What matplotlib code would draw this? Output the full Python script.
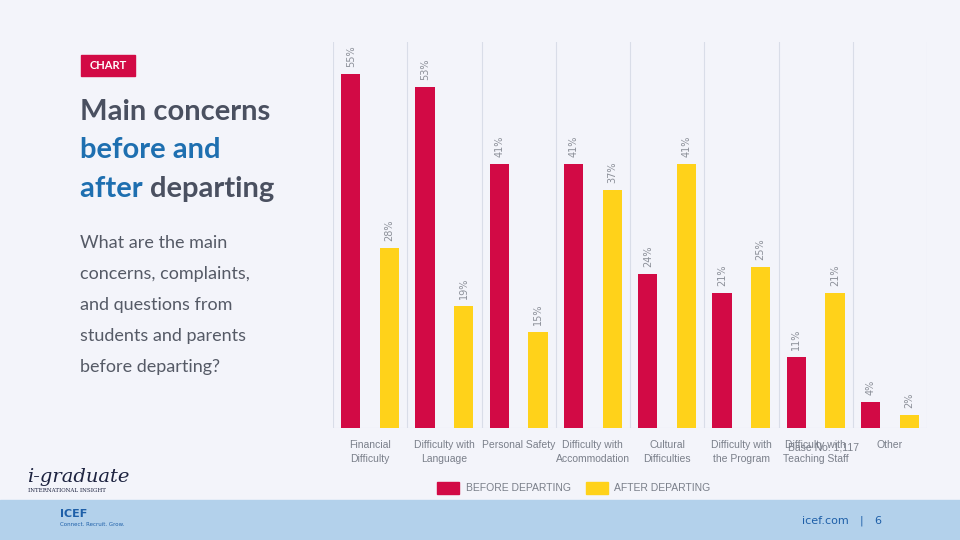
import numpy as np
import matplotlib
matplotlib.use("Agg")
import matplotlib.pyplot as plt
from matplotlib.patches import Rectangle, Patch

# --- data -------------------------------------------------------------------
categories = [
    "Financial\nDifficulty",
    "Difficulty with\nLanguage",
    "Personal Safety",
    "Difficulty with\nAccommodation",
    "Cultural\nDifficulties",
    "Difficulty with\nthe Program",
    "Difficulty with\nTeaching Staff",
    "Other",
]
before = [55, 53, 41, 41, 24, 21, 11, 4]
after = [28, 19, 15, 37, 41, 25, 21, 2]
series_names = ["BEFORE DEPARTING", "AFTER DEPARTING"]

# --- style ------------------------------------------------------------------
W, H = 960, 540
BG = "#F3F4FA"
RED = "#D20A45"
YELLOW = "#FFD21A"
GRID = "#D9DDE8"
DARK = "#4A5060"
BLUE = "#1E6FB0"
GRAY = "#7A7F8A"
FOOT = "#B3D1EB"
FOOT_TXT = "#1E5FA8"
TITLE_FONT = ["Lato", "DejaVu Sans"]
SMALL_FONT = ["Liberation Sans Narrow", "Liberation Sans", "DejaVu Sans"]


def px(x, y):
    """pixel position (from top-left) -> figure fraction"""
    return x / W, 1 - y / H


fig = plt.figure(figsize=(W / 100, H / 100), dpi=100, facecolor=BG)

# footer band
fig.patches.append(Rectangle((0, 0), 1, 40 / H, transform=fig.transFigure,
                             color=FOOT, zorder=0))

# --- chart ------------------------------------------------------------------
left, top, right, bottom = 333, 42, 927, 428
ax = fig.add_axes([left / W, 1 - bottom / H, (right - left) / W, (bottom - top) / H])
ax.set_facecolor("none")

x = np.arange(len(categories))
bw = 0.26
b1 = ax.bar(x - bw, before, bw, color=RED, zorder=3)
b2 = ax.bar(x + bw, after, bw, color=YELLOW, zorder=3)

for bars in (b1, b2):
    for r in bars:
        ax.annotate(f"{r.get_height():.0f}%",
                    (r.get_x() + r.get_width() / 2, r.get_height()),
                    xytext=(0, 5), textcoords="offset points",
                    rotation=90, ha="center", va="bottom",
                    fontsize=7, color="#8C9099")

for i in range(len(categories) + 1):
    ax.axvline(i - 0.5, color=GRID, lw=0.8, zorder=1)
ax.axhline(0, color=GRID, lw=0.8, zorder=1)

ax.set_xlim(-0.5, len(categories) - 0.5)
ax.set_ylim(0, 60)
ax.set_yticks([])
ax.set_xticks(x)
ax.set_xticklabels(categories, fontsize=7.5, color=GRAY, family=SMALL_FONT,
                   linespacing=1.5, va="top")
ax.tick_params(axis="x", length=0, pad=9)
for s in ax.spines.values():
    s.set_visible(False)

# base note (sits over the 7th label, as in the source slide)
fig.text(*px(824, 447), "Base No: 1,117", fontsize=7.5, color=GRAY,
         family=SMALL_FONT, ha="center", va="center")

# legend
handles = [Patch(color=RED), Patch(color=YELLOW)]
fig.legend(handles, series_names, loc="center", bbox_to_anchor=px(574, 488),
           ncol=2, frameon=False, handlelength=2.1, handleheight=1.5,
           columnspacing=1.5, handletextpad=0.6,
           prop={"family": SMALL_FONT, "size": 7.5}, labelcolor=GRAY)

# --- left text panel ----------------------------------------------------------
fig.patches.append(Rectangle(px(81, 76), 54 / W, 21 / H, transform=fig.transFigure,
                             color=RED, zorder=2))
fig.text(*px(108, 65.5), "CHART", color="white", fontsize=8, weight="bold",
         family=TITLE_FONT, ha="center", va="center")

fig.text(*px(80, 120), "Main concerns", fontsize=21, weight="bold",
         color=DARK, family=TITLE_FONT, va="baseline")
fig.text(*px(80, 158), "before and", fontsize=21, weight="bold",
         color=BLUE, family=TITLE_FONT, va="baseline")
t = fig.text(*px(80, 197), "after ", fontsize=21, weight="bold",
             color=BLUE, family=TITLE_FONT, va="baseline")
fig.canvas.draw()
ext = t.get_window_extent()
fig.text(ext.x1 / W, 1 - 197 / H, "departing", fontsize=21, weight="bold",
         color=DARK, family=TITLE_FONT, va="baseline")

sub_lines = ["What are the main", "concerns, complaints,", "and questions from",
             "students and parents", "before departing?"]
for k, line in enumerate(sub_lines):
    fig.text(*px(80, 248 + k * 31), line, fontsize=13, color="#555A66",
             family=TITLE_FONT, va="baseline")

# --- logos / footer text --------------------------------------------------------
fig.text(*px(27, 482), "i-graduate", fontsize=14, style="italic",
         family="DejaVu Serif", color="#1D2340", va="baseline")
fig.text(*px(28, 490), "INTERNATIONAL INSIGHT", fontsize=4,
         family="DejaVu Serif", color="#1D2340", va="center")
fig.text(*px(60, 514), "ICEF", fontsize=8, weight="bold", color=FOOT_TXT,
         va="center")
fig.text(*px(60, 525), "Connect. Recruit. Grow.", fontsize=4, color=FOOT_TXT,
         va="center")
fig.text(*px(802, 521), "icef.com", fontsize=8, color=FOOT_TXT, va="center")
fig.text(*px(860, 521), "|", fontsize=8, color=FOOT_TXT, va="center")
fig.text(*px(874, 521), "6", fontsize=8, color=FOOT_TXT, va="center")

fig.savefig("out.png", dpi=100, facecolor=BG)
